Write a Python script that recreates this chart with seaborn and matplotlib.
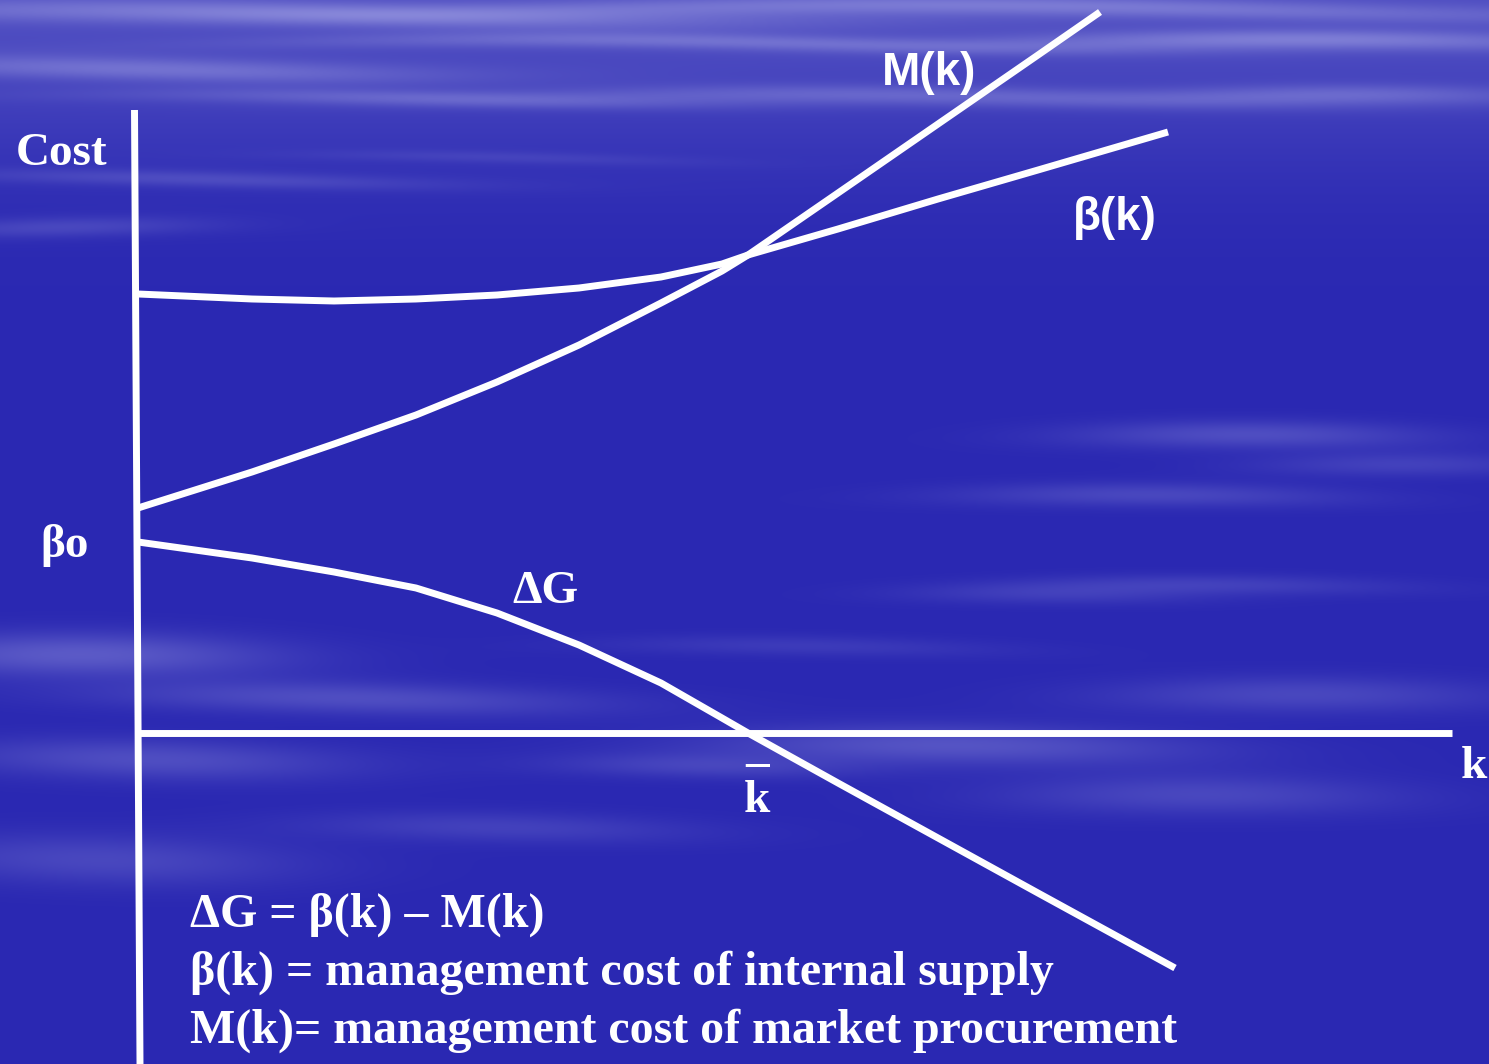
import numpy as np
import matplotlib
matplotlib.use('Agg')
import matplotlib.pyplot as plt
import seaborn as sns

# curve values (k along the x axis, cost up the y axis)
k_beta = [0.0, 1.14, 1.96, 2.78, 3.59, 4.41, 5.23, 5.84, 6.1, 7.0, 8.0, 9.0, 10.3]
cost_beta = [4.39, 4.34, 4.32, 4.34, 4.38, 4.45, 4.56, 4.69, 4.78, 5.04, 5.34, 5.63, 6.01]

k_market = [0.0, 1.14, 1.96, 2.78, 3.59, 4.41, 5.23, 5.84, 6.1, 7.0, 8.0, 9.0, 9.62]
cost_market = [2.25, 2.61, 2.89, 3.18, 3.51, 3.88, 4.30, 4.62, 4.78, 5.40, 6.09, 6.78, 7.21]

k_delta = [0.0, 1.14, 1.96, 2.78, 3.59, 4.41, 5.23, 5.84, 6.1, 7.0, 8.0, 9.0, 10.37]
cost_delta = [1.91, 1.75, 1.61, 1.45, 1.20, 0.88, 0.50, 0.15, 0.0, -0.50, -1.05, -1.60, -2.35]

k_bar = 6.19

# axes of the sketch
yaxis_k = [-0.035, 0.02]
yaxis_cost = [6.23, -3.31]
xaxis_k = [0.0, 13.14]
xaxis_cost = [0.0, 0.0]

eq_lines = ['\u0394G = \u03b2(k) \u2013 M(k)',
            '\u03b2(k) = management cost of internal supply',
            'M(k)= management cost of market procurement']

W, H = 1489, 1064

# sky-like background
yy, xx = np.mgrid[0:H, 0:W].astype(float)
dark = np.array([42, 40, 178]) / 255
light = np.array([165, 165, 230]) / 255
inten = 0.30 * np.exp(-(yy / 150) ** 2)
blobs = [(300, 15, 500, 12, 0.35), (1000, 10, 600, 10, 0.35), (1300, 45, 300, 10, 0.4),
         (700, 45, 400, 8, 0.3), (150, 70, 300, 12, 0.35), (900, 100, 400, 10, 0.3),
         (1350, 100, 200, 10, 0.3), (400, 100, 300, 8, 0.25), (200, 180, 250, 8, 0.22),
         (60, 230, 150, 10, 0.22), (500, 160, 200, 6, 0.12),
         (1250, 440, 180, 14, 0.3), (1150, 500, 200, 12, 0.25), (1400, 470, 150, 12, 0.2),
         (1050, 600, 150, 10, 0.15), (1200, 590, 200, 10, 0.2),
         (80, 660, 200, 22, 0.4), (350, 700, 250, 16, 0.3), (150, 760, 200, 20, 0.3),
         (950, 750, 250, 20, 0.35), (1200, 800, 200, 20, 0.25), (500, 830, 200, 15, 0.2),
         (100, 860, 200, 25, 0.25), (800, 650, 200, 10, 0.15), (1300, 700, 200, 18, 0.25),
         (700, 770, 150, 12, 0.2)]
for cx, cy, sx, sy, a in blobs:
    wav = cy + 6 * np.sin(xx / 240 + cx)
    inten += a * np.exp(-((xx - cx) / sx) ** 2 - ((yy - wav) / sy) ** 2)
inten = np.clip(inten, 0, 1)[..., None]
img = dark + inten * (light - dark)

fig = plt.figure(figsize=(W / 100, H / 100), dpi=100)
bg = fig.add_axes([0, 0, 1, 1])
bg.imshow(img, aspect='auto')
bg.axis('off')

ax = fig.add_axes([0, 0, 1, 1])
ax.patch.set_alpha(0)
ax.set_xlim(-1.38, 13.51)
ax.set_ylim(-3.31, 7.33)
ax.axis('off')

lw = 5
for kx, cy in [(yaxis_k, yaxis_cost), (xaxis_k, xaxis_cost),
               (k_beta, cost_beta), (k_market, cost_market), (k_delta, cost_delta)]:
    sns.lineplot(x=kx, y=cy, ax=ax, color='white', lw=lw, sort=False,
                 estimator=None, solid_capstyle='butt')

serif = dict(family='Liberation Serif', weight='bold', color='white', fontsize=34)
sans = dict(family='Liberation Sans', weight='bold', color='white', fontsize=33)

ax.text(-1.22, 5.68, 'Cost', va='baseline', **serif)
ax.text(-0.98, 1.76, '\u03b2o', va='baseline', **serif)
ax.text(3.74, 1.30, '\u0394G', va='baseline', **serif)
ax.text(k_bar, -0.79, '\u2013\nk', va='baseline', ha='center',
        multialignment='center', linespacing=0.8, **serif)
ax.text(13.23, -0.45, 'k', va='baseline', **serif)
ax.text(7.44, 6.48, 'M(k)', va='baseline', **sans)
ax.text(9.35, 5.03, '\u03b2(k)', va='baseline', **sans)

for i, line in enumerate(eq_lines):
    ax.text(0.52, -1.94 - 0.58 * i, line, va='baseline',
            **{**serif, 'fontsize': 34.5})

fig.savefig('out.png', dpi=100)
